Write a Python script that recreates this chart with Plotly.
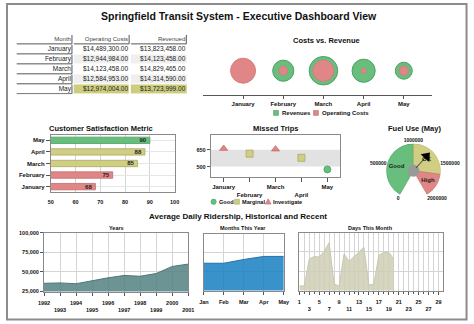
import plotly.graph_objects as go

W, H = 474, 324


def PX(x):
    return x / W


def PY(y):
    return 1 - y / H


FONT = "Liberation Sans, Arial, sans-serif"

# ---------------- data ----------------
months = ["January", "February", "March", "April", "May"]
month_abbr = ["Jan", "Feb", "Mar", "Apr", "May"]
table_header = ["Month", "Operating\u00a0Costs", "Revenued"]
operating_costs = [14489300, 12944984, 14123458, 12584953, 12974004]
revenues = [13823458, 14123458, 14829465, 14314590, 13723999]

satisfaction = [68, 75, 85, 88, 90]
satisfaction_ticks = [50, 60, 70, 80, 90, 100]

missed_trips = [660, 615, 655, 578, 475]
missed_band = [500, 650]
missed_status = ["Good", "Marginal", "Investigate"]

fuel_use = 1280000
fuel_bands = [0, 1000000, 1650000, 2000000]
fuel_band_labels = ["Good", "OK", "High"]
fuel_ticks = [0, 500000, 1000000, 1500000, 2000000]

years = [1992, 1993, 1994, 1995, 1996, 1997, 1998, 1999, 2000, 2001]
ridership_years = [35500, 36000, 35000, 39000, 42500, 45500, 44500, 48000, 57000, 60000]
ridership_months = [61000, 61000, 66000, 70000, 70000]
days = list(range(1, 21))
ridership_days = [31000, 31000, 66000, 69000, 68500, 76000, 87000, 33500, 31000, 72500,
                  63000, 68500, 75000, 81000, 32000, 33500, 70500, 74500, 74500, 66000]
ridership_ticks = [25000, 50000, 75000, 100000]
day_ticks = list(range(1, 30, 2))
all_days = list(range(1, 30))

# ---------------- colours ----------------
GREEN, GREEN_D = "rgb(104,190,124)", "rgb(78,160,98)"
OLIVE, OLIVE_D = "rgb(208,206,130)", "rgb(170,168,98)"
RED, RED_D = "rgb(224,134,134)", "rgb(192,108,108)"
GRID = "#d4d4d4"
FRAME = "#8a8a8a"
AXC = "#555"

fig = go.Figure()
shapes = []
annots = []


def txt(x, y, s, size=7, anchor="center", color="#111", bold=True):
    annots.append(dict(x=PX(x), y=PY(y), xref="paper", yref="paper", text=s, showarrow=False,
                       xanchor=anchor, yanchor="middle", borderpad=0,
                       font=dict(family=FONT, size=size, color=color,
                                 weight="bold" if bold else "normal")))


# ---------------- table (heatmap cells + text) ----------------
n_rows = len(months) + 1
z = [[0, 0, 0]]
for i in range(len(months)):
    f = 2 if i == len(months) - 1 else (1 if i % 2 == 1 else 0)
    z.append([0, f, f])
fig.add_trace(go.Heatmap(z=z, x=[0, 1, 2], y=list(range(n_rows)),
                         colorscale=[[0, "white"], [0.5, "#efefef"], [1, "rgb(205,205,126)"]],
                         zmin=0, zmax=2, showscale=False, xgap=2, ygap=1,
                         xaxis="x7", yaxis="y7", hoverinfo="skip"))
cell_rows = [table_header] + [[m, f"${c:,.2f}", f"${r:,.2f}"]
                              for m, c, r in zip(months, operating_costs, revenues)]
tx, ty, tt, tc, ts = [], [], [], [], []
for ri, row in enumerate(cell_rows):
    for ci, t in enumerate(row):
        tx.append(ci + 0.465)
        ty.append(ri)
        tt.append(t)
        tc.append("#444" if ri == 0 else "#222")
        ts.append(6 if ri == 0 else 6.5)
fig.add_trace(go.Scatter(x=tx, y=ty, text=tt, mode="text", textposition="middle left",
                         textfont=dict(family=FONT, size=ts, color=tc),
                         xaxis="x7", yaxis="y7", showlegend=False, hoverinfo="skip"))
for ri in range(n_rows):
    cols = range(3) if ri == 0 else [0]
    for ci in cols:
        x0, x1 = ci - 0.5 + 0.017, ci + 0.5 - 0.017
        y0, y1 = ri - 0.5 + 0.05, ri + 0.5 - 0.05
        shapes.append(dict(type="line", xref="x7", yref="y7", x0=x0, x1=x1, y0=y1, y1=y1,
                           line=dict(color="#555", width=1)))
        shapes.append(dict(type="line", xref="x7", yref="y7", x0=x1, x1=x1, y0=y0, y1=y1,
                           line=dict(color="#555", width=1)))

# ---------------- bubbles: costs vs revenue ----------------
vmin = min(operating_costs + revenues)


def bubble_d(v):
    return 5 + (v - vmin) / 1e6 * 10.5


fig.add_trace(go.Scatter(x=months, y=[0] * len(months), mode="markers",
                         marker=dict(size=[bubble_d(v) for v in revenues], color=GREEN, opacity=1,
                                     line=dict(color=GREEN_D, width=1)),
                         xaxis="x", yaxis="y", showlegend=False, hoverinfo="skip"))
fig.add_trace(go.Scatter(x=months, y=[0] * len(months), mode="markers",
                         marker=dict(size=[bubble_d(v) for v in operating_costs], color=RED, opacity=1,
                                     line=dict(color="rgb(214,124,124)", width=1)),
                         xaxis="x", yaxis="y", showlegend=False, hoverinfo="skip"))

# ---------------- customer satisfaction ----------------
sat_colors = [GREEN if v >= 90 else OLIVE if v >= 80 else RED for v in satisfaction]
sat_lines = [GREEN_D if v >= 90 else OLIVE_D if v >= 80 else RED_D for v in satisfaction]
fig.add_trace(go.Bar(x=satisfaction, y=months, orientation="h", width=0.55,
                     marker=dict(color=sat_colors, line=dict(color=sat_lines, width=0.8)),
                     text=[str(v) for v in satisfaction], textposition="inside",
                     insidetextanchor="end", constraintext="none", textangle=0,
                     textfont=dict(family=FONT, size=6, color="#222", weight="bold"),
                     xaxis="x2", yaxis="y2", showlegend=False, hoverinfo="skip"))

# ---------------- missed trips ----------------
def trip_status(v):
    if v >= missed_band[1]:
        return "Investigate"
    if v >= missed_band[0]:
        return "Marginal"
    return "Good"


status_style = {"Good": ("circle", GREEN, GREEN_D),
                "Marginal": ("square", OLIVE, OLIVE_D),
                "Investigate": ("triangle-up", RED, RED_D)}
for name in missed_status:
    sym, col, lc = status_style[name]
    xs = [m for m, v in zip(months, missed_trips) if trip_status(v) == name]
    ys = [v for v in missed_trips if trip_status(v) == name]
    fig.add_trace(go.Scatter(x=xs, y=ys, mode="markers",
                             marker=dict(symbol=sym, size=7, color=col, line=dict(color=lc, width=0.8)),
                             xaxis="x3", yaxis="y3", showlegend=False, hoverinfo="skip"))
shapes.append(dict(type="rect", xref="x3 domain", yref="y3", x0=0, x1=1,
                   y0=missed_band[0], y1=missed_band[1], fillcolor="#e2e2e2",
                   line=dict(width=0), layer="below"))

# ---------------- fuel gauge ----------------
G_START, G_SPAN = -150, 300


def g_angle(v):
    return (G_START + v / fuel_bands[-1] * G_SPAN) % 360


mids, spans = [], []
for a, b in zip(fuel_bands[:-1], fuel_bands[1:]):
    spans.append((b - a) / fuel_bands[-1] * G_SPAN)
    mids.append(G_START + (a + b) / 2 / fuel_bands[-1] * G_SPAN)
fig.add_trace(go.Barpolar(r=[1, 1, 1], theta=mids, width=spans,
                          marker=dict(color=[GREEN, OLIVE, RED],
                                      line=dict(color=[GREEN_D, OLIVE_D, RED_D], width=0.6)),
                          subplot="polar", showlegend=False, hoverinfo="skip"))
fig.add_trace(go.Scatterpolar(r=[0.64] * 3, theta=mids, text=fuel_band_labels, mode="text",
                              textfont=dict(family=FONT, size=6, color="#222", weight="bold"),
                              subplot="polar", showlegend=False, hoverinfo="skip"))
fig.add_trace(go.Barpolar(r=[0.22], theta=[0], width=[360],
                          marker=dict(color="#999", line=dict(width=0)),
                          subplot="polar", showlegend=False, hoverinfo="skip"))
na = g_angle(fuel_use)
fig.add_trace(go.Scatterpolar(r=[0.15, 0.85], theta=[na, na], mode="lines",
                              line=dict(color="#333", width=1),
                              subplot="polar", showlegend=False, hoverinfo="skip"))
fig.add_trace(go.Scatterpolar(r=[0.72], theta=[na], mode="markers",
                              marker=dict(symbol="triangle-up", size=10, angle=na, color="black"),
                              subplot="polar", showlegend=False, hoverinfo="skip"))

# ---------------- ridership ----------------
def transp(rgb, a):
    return "rgba(%d,%d,%d,%.2f)" % (tuple(round((c - (1 - a) * 255) / a) for c in rgb) + (a,))


fig.add_trace(go.Scatter(x=years, y=ridership_years, mode="lines", fill="tozeroy",
                         fillcolor=transp((108, 148, 148), 0.85),
                         line=dict(color="rgb(80,118,118)", width=1),
                         xaxis="x4", yaxis="y4", showlegend=False, hoverinfo="skip"))
fig.add_trace(go.Scatter(x=month_abbr, y=ridership_months, mode="lines", fill="tozeroy",
                         fillcolor=transp((58, 146, 202), 0.85),
                         line=dict(color="rgb(40,112,170)", width=1),
                         xaxis="x5", yaxis="y5", showlegend=False, hoverinfo="skip"))
fig.add_trace(go.Scatter(x=days, y=ridership_days, mode="lines", fill="tozeroy",
                         fillcolor=transp((214, 214, 192), 0.85),
                         line=dict(color="rgb(200,200,176)", width=1),
                         xaxis="x6", yaxis="y6", showlegend=False, hoverinfo="skip"))


def alt(labels):
    return [str(l) if i % 2 == 0 else "<br>" + str(l) for i, l in enumerate(labels)]


tf = dict(family=FONT, size=6, color="#111", weight="bold")
tf5 = dict(family=FONT, size=5.5, color="#111", weight="bold")
framed = dict(showline=True, mirror=True, linecolor=FRAME, linewidth=1, zeroline=False)

layout_axes = dict(
    xaxis=dict(domain=[PX(202), PX(437)], anchor="y", range=[-1, 4.7], showline=True,
               linecolor=AXC, linewidth=1, ticks="outside", ticklen=3, tickcolor=AXC,
               showgrid=False, zeroline=False, tickfont=tf, categoryorder="array",
               categoryarray=months, tickangle=0),
    yaxis=dict(domain=[PY(94), PY(44)], anchor="x", range=[-1, 1], visible=False),
    xaxis2=dict(domain=[PX(46), PX(173)], anchor="y2", range=[50, 100], tickvals=satisfaction_ticks,
                showgrid=True, gridcolor=GRID, ticks="", tickfont=tf5, tickangle=0,
                ticklabelstandoff=4, **framed),
    yaxis2=dict(domain=[PY(193), PY(134)], anchor="x2", showgrid=True, gridcolor="#e6e6e6",
                ticks="outside", ticklen=4, tickcolor=AXC, tickfont=tf, categoryorder="array",
                categoryarray=months, **framed),
    xaxis3=dict(domain=[PX(210), PX(343)], anchor="y3", range=[-0.5, 4.5], categoryorder="array",
                categoryarray=months, tickvals=months, ticktext=alt(months), ticks="outside",
                ticklen=4, tickcolor=AXC, showgrid=False, tickfont=tf, tickangle=0, **framed),
    yaxis3=dict(domain=[PY(177), PY(134)], anchor="x3", range=[410, 785], tickvals=missed_band,
                ticks="outside", ticklen=3, tickcolor=AXC, showgrid=False, tickfont=tf5, **framed),
    xaxis4=dict(domain=[PX(39), PX(187)], anchor="y4", range=[years[0], years[-1]], tickvals=years,
                ticktext=alt(years), ticks="outside", ticklen=3, tickcolor=AXC, showgrid=True,
                gridcolor=GRID, tickfont=tf5, tickangle=0, ticklabelstandoff=3, **framed),
    yaxis4=dict(domain=[PY(294), PY(234)], anchor="x4", range=[25000, 100000], tickvals=ridership_ticks,
                tickformat=",", ticks="outside", ticklen=3, tickcolor=AXC, showgrid=True,
                gridcolor=GRID, tickfont=tf5, **framed),
    xaxis5=dict(domain=[PX(203), PX(285)], anchor="y5", range=[0, 4], categoryorder="array",
                categoryarray=month_abbr, ticks="outside", ticklen=3, tickcolor=AXC, showgrid=True,
                gridcolor=GRID, tickfont=tf5, tickangle=0, ticklabelstandoff=3, **framed),
    yaxis5=dict(domain=[PY(293), PY(235)], anchor="x5", range=[25000, 100000], tickvals=ridership_ticks,
                showticklabels=False, showgrid=True, gridcolor=GRID, **framed),
    xaxis6=dict(domain=[PX(301), PX(448)], anchor="y6", range=[1, 29.85], tickvals=day_ticks,
                ticktext=alt(day_ticks), ticks="outside", ticklen=3, tickcolor=AXC, showgrid=True,
                gridcolor=GRID, tickfont=tf5, tickangle=0, ticklabelstandoff=3,
                minor=dict(tickvals=all_days, ticks="outside", ticklen=2, tickcolor=AXC,
                           showgrid=True, gridcolor=GRID), **framed),
    yaxis6=dict(domain=[PY(293), PY(234)], anchor="x6", range=[25000, 100000], tickvals=ridership_ticks,
                showticklabels=False, showgrid=True, gridcolor=GRID, **framed),
    xaxis7=dict(domain=[PX(10), PX(186)], anchor="y7", range=[-0.5, 2.5], visible=False),
    yaxis7=dict(domain=[PY(93), PY(32)], anchor="x7", range=[n_rows - 0.5, -0.5], visible=False),
)

# ---------------- titles ----------------
txt(239, 13, "Springfield Transit System - Executive Dashboard View", size=10.5)
txt(329, 38, "Costs vs. Revenue", size=7.5)
txt(97, 128, "Customer Satisfaction Metric", size=7.5)
txt(277, 128, "Missed Trips", size=7.5)
txt(419, 128, "Fuel Use (May)", size=7.5)
txt(238, 218, "Average Daily Ridership, Historical and Recent", size=8)
txt(113, 229, "Years", size=5.5)
txt(243, 229, "Months This Year", size=5.5)
txt(374, 229, "Days This Month", size=5.5)


# ---------------- custom legends ----------------
def sq(x, y, col, lc, s=2.5):
    shapes.append(dict(type="rect", xref="paper", yref="paper", x0=PX(x - s), x1=PX(x + s),
                       y0=PY(y + s), y1=PY(y - s), fillcolor=col, line=dict(color=lc, width=0.6)))


def circ(x, y, col, lc, s=2.7):
    shapes.append(dict(type="circle", xref="paper", yref="paper", x0=PX(x - s), x1=PX(x + s),
                       y0=PY(y + s), y1=PY(y - s), fillcolor=col, line=dict(color=lc, width=0.6)))


def tri(x, y, col, lc, s=3):
    path = "M %f,%f L %f,%f L %f,%f Z" % (PX(x - s), PY(y + s * 0.8), PX(x + s), PY(y + s * 0.8),
                                          PX(x), PY(y - s))
    shapes.append(dict(type="path", xref="paper", yref="paper", path=path, fillcolor=col,
                       line=dict(color=lc, width=0.6)))


sq(277, 112, GREEN, GREEN_D)
txt(282, 112, "Revenues", size=6, anchor="left")
sq(318, 112, RED, RED_D)
txt(323, 112, "Operating Costs", size=6, anchor="left")

circ(213, 202.5, GREEN, GREEN_D)
txt(217, 202.5, "Good", size=5.6, anchor="left")
sq(237, 202.5, OLIVE, OLIVE_D)
txt(241, 202.5, "Marginal", size=5.6, anchor="left")
tri(269, 202.5, RED, RED_D)
txt(273, 202.5, "Investigate", size=5.6, anchor="left")

# outer frame
shapes.append(dict(type="rect", xref="paper", yref="paper", x0=PX(1), x1=PX(472.5),
                   y0=PY(322.5), y1=PY(1), line=dict(color="#8c8c8c", width=2)))

fig.update_layout(
    width=W, height=H, margin=dict(l=0, r=0, t=0, b=0),
    paper_bgcolor="white", plot_bgcolor="white", showlegend=False,
    font=dict(family=FONT, size=6, color="#111"),
    shapes=shapes, annotations=annots,
    polar=dict(domain=dict(x=[PX(390), PX(446)], y=[PY(199), PY(143)]),
               bgcolor="rgba(0,0,0,0)", bargap=0,
               angularaxis=dict(rotation=90, direction="clockwise", tickmode="array",
                                tickvals=[g_angle(v) for v in fuel_ticks],
                                ticktext=[str(v) for v in fuel_ticks],
                                showline=False, showgrid=False, ticks="",
                                tickfont=dict(family=FONT, size=5, color="#111", weight="bold")),
               radialaxis=dict(visible=False, range=[0, 1])),
    **layout_axes,
)

fig.write_html("out.html")
